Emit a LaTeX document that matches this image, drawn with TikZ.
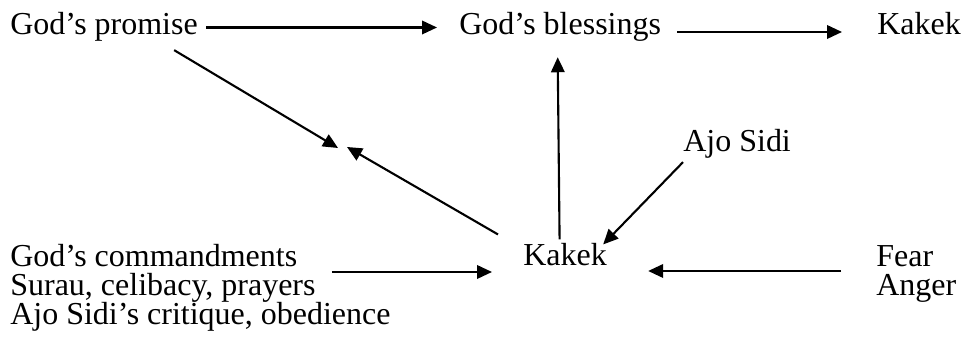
\documentclass[tikz,border=0pt]{standalone}
\usepackage{fontspec}
\setmainfont{Liberation Serif}
\usetikzlibrary{arrows.meta}
\newcommand{\cfont}{\fontsize{18.2}{16.5}\selectfont\lineskiplimit=-20pt\relax}
\tikzset{
  clabel/.style={inner sep=0pt, anchor=base west, font=\cfont},
  cblock/.style={clabel, anchor=north west, align=left},
  carrow/.style={line width=1.2pt, -{Triangle[length=0.3cm, width=0.27cm]}},
}

\begin{document}
\begin{tikzpicture}
  \useasboundingbox (0,0) rectangle (19.22,6.94);
  % top row
  \node[clabel] (promise) at (0.20,6.24) {God’s promise};
  \node[clabel] (blessings) at (9.18,6.24) {God’s blessings};
  \node[clabel] (kakekTop) at (17.54,6.24) {Kakek};
  % middle
  \node[clabel] (ajosidi) at (13.66,3.90) {Ajo Sidi};
  \coordinate (meetA) at (6.76,3.98);
  \coordinate (meetB) at (6.94,4.00);
  % bottom row
  \node[cblock] (commands) at (0.20,2.06)
    {God’s commandments\\Surau, celibacy, prayers\\Ajo Sidi’s critique, obedience};
  \node[clabel] (kakek) at (10.46,1.62) {Kakek};
  \node[cblock] (feelings) at (17.52,2.04) {Fear\\Anger};
  % connectors
  \draw[carrow] ([xshift=0.16cm, yshift=0.15cm]promise.base east)
    -- ([xshift=-0.44cm, yshift=0.15cm]blessings.base west);
  \draw[carrow] ([xshift=0.32cm, yshift=0.06cm]blessings.base east)
    -- ([xshift=-0.70cm, yshift=0.06cm]kakekTop.base west);
  \draw[carrow] ([xshift=-0.48cm, yshift=-0.16cm]promise.south east) -- (meetA);
  \draw[carrow] ([xshift=-0.50cm, yshift=0.18cm]kakek.north west) -- (meetB);
  \draw[carrow] ([xshift=-0.11cm, yshift=0.08cm]kakek.north)
    -- ([xshift=-0.05cm, yshift=-0.30cm]blessings.south);
  \draw[carrow] ([yshift=-0.06cm]ajosidi.south west)
    -- ([xshift=-0.08cm, yshift=-0.02cm]kakek.north east);
  \draw[carrow] ([xshift=-1.18cm, yshift=-0.56cm]commands.north east)
    -- ([xshift=-0.62cm, yshift=-0.12cm]kakek.base west);
  \draw[carrow] ([xshift=-0.70cm, yshift=-0.52cm]feelings.north west)
    -- ([xshift=0.82cm, yshift=-0.10cm]kakek.base east);
\end{tikzpicture}
\end{document}
